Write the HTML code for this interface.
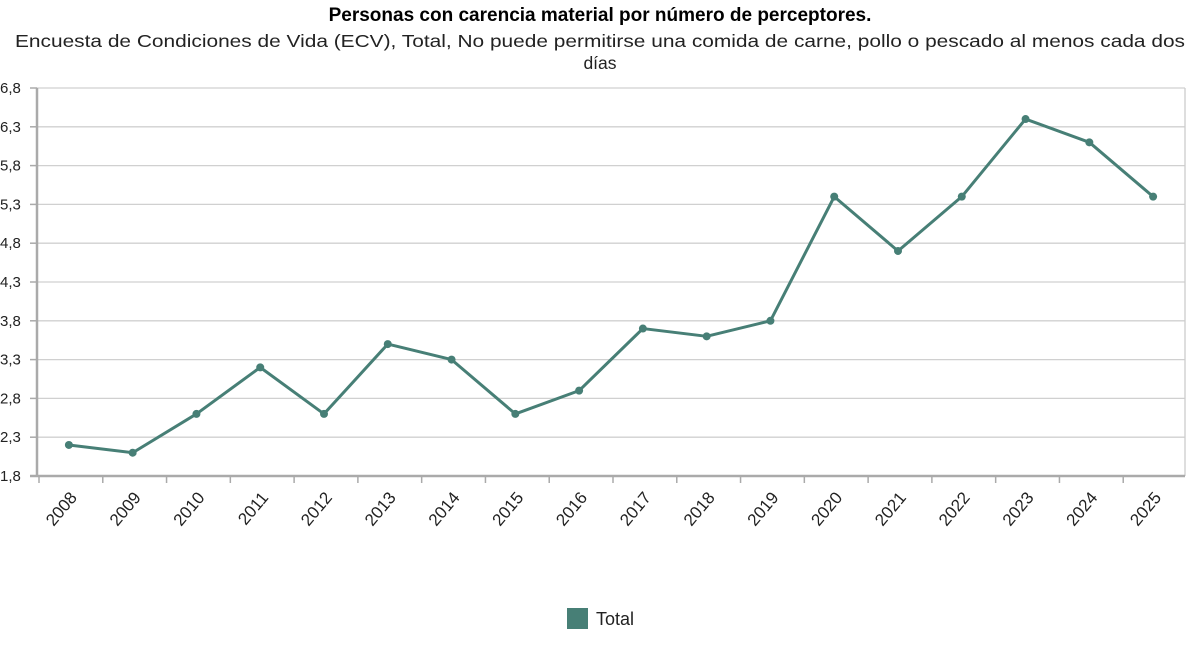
<!DOCTYPE html>
<html><head><meta charset="utf-8"><style>
body{margin:0;background:#fff;font-family:"Liberation Sans",sans-serif;}
svg{display:block}
</style></head><body>
<svg width="1200" height="651" id="c">
<text x="600" y="21" text-anchor="middle" font-size="19" font-weight="bold" fill="#000">Personas con carencia material por número de perceptores.</text>
<text x="600" y="47" text-anchor="middle" font-size="17.5" textLength="1170" lengthAdjust="spacingAndGlyphs" fill="#222">Encuesta de Condiciones de Vida (ECV), Total, No puede permitirse una comida de carne, pollo o pescado al menos cada dos</text>
<text x="600" y="69" text-anchor="middle" font-size="17.5" fill="#222">días</text>
<g id="grid"></g><g id="axes"></g><g id="series"></g>
<g>
<rect x="567" y="608" width="21" height="21" fill="#477f76"/>
<text x="596" y="625" font-size="18" fill="#222">Total</text>
</g>
</svg>
<script>
const categories=["2008","2009","2010","2011","2012","2013","2014","2015","2016","2017","2018","2019","2020","2021","2022","2023","2024","2025"];
const values=[2.2,2.1,2.6,3.2,2.6,3.5,3.3,2.6,2.9,3.7,3.6,3.8,5.4,4.7,5.4,6.4,6.1,5.4];
const yTicks=[1.8,2.3,2.8,3.3,3.8,4.3,4.8,5.3,5.8,6.3,6.8];
const NS="http://www.w3.org/2000/svg";
const L=37,R=1185,T=88,B=476,ymin=1.8,ymax=6.8;
const cw=(R-L)/categories.length;
const xs=i=>L+cw*(i+0.5);
const ys=v=>B-(v-ymin)/(ymax-ymin)*(B-T);
function mk(tag,at,parent){const e=document.createElementNS(NS,tag);for(const k in at)e.setAttribute(k,at[k]);document.getElementById(parent).appendChild(e);return e;}
yTicks.forEach((t,i)=>{
 const g=mk("line",{x1:L,x2:R,y1:ys(t),y2:ys(t),stroke:"#d0d0d0","stroke-width":1.3},"grid");
 
 
 const tk=mk("line",{x1:L-7,x2:L,y1:ys(t),y2:ys(t),stroke:"#aaa","stroke-width":1.5},"axes");
 
 
 const tx=mk("text",{x:0,y:ys(t)+5,"font-size":15,fill:"#222"},"axes");
 tx.textContent=t.toFixed(1).replace(".",",");
 
 
});
const ya=mk("line",{x1:L,x2:L,y1:T,y2:B,stroke:"#aaa","stroke-width":2.5},"axes");


const rb=mk("line",{x1:R,x2:R,y1:T,y2:B,stroke:"#ccc","stroke-width":1.3},"axes");


const xa=mk("line",{x1:L-7,x2:R,y1:B,y2:B,stroke:"#aaa","stroke-width":2.5},"axes");


categories.forEach((c,i)=>{
 const bx=L+cw*i+2;
 const tk=mk("line",{x1:bx,x2:bx,y1:B,y2:B+7,stroke:"#aaa","stroke-width":1.5},"axes");
 
 
 const x=xs(i)+9,y=B+22;
 const tx=mk("text",{x:x,y:y,"font-size":17,fill:"#222","text-anchor":"end",transform:`rotate(-50 ${x} ${y})`},"axes");
 tx.textContent=c;
 
 
});
const pts=values.map((v,i)=>xs(i)+","+ys(v)).join(" ");
const ln=mk("polyline",{points:pts,fill:"none",stroke:"#477f76","stroke-width":3,"stroke-linejoin":"round"},"series");


values.forEach((v,i)=>{
 const p=mk("circle",{cx:xs(i),cy:ys(v),r:4,fill:"#477f76"},"series");
 
 
});
</script>
</body></html>
